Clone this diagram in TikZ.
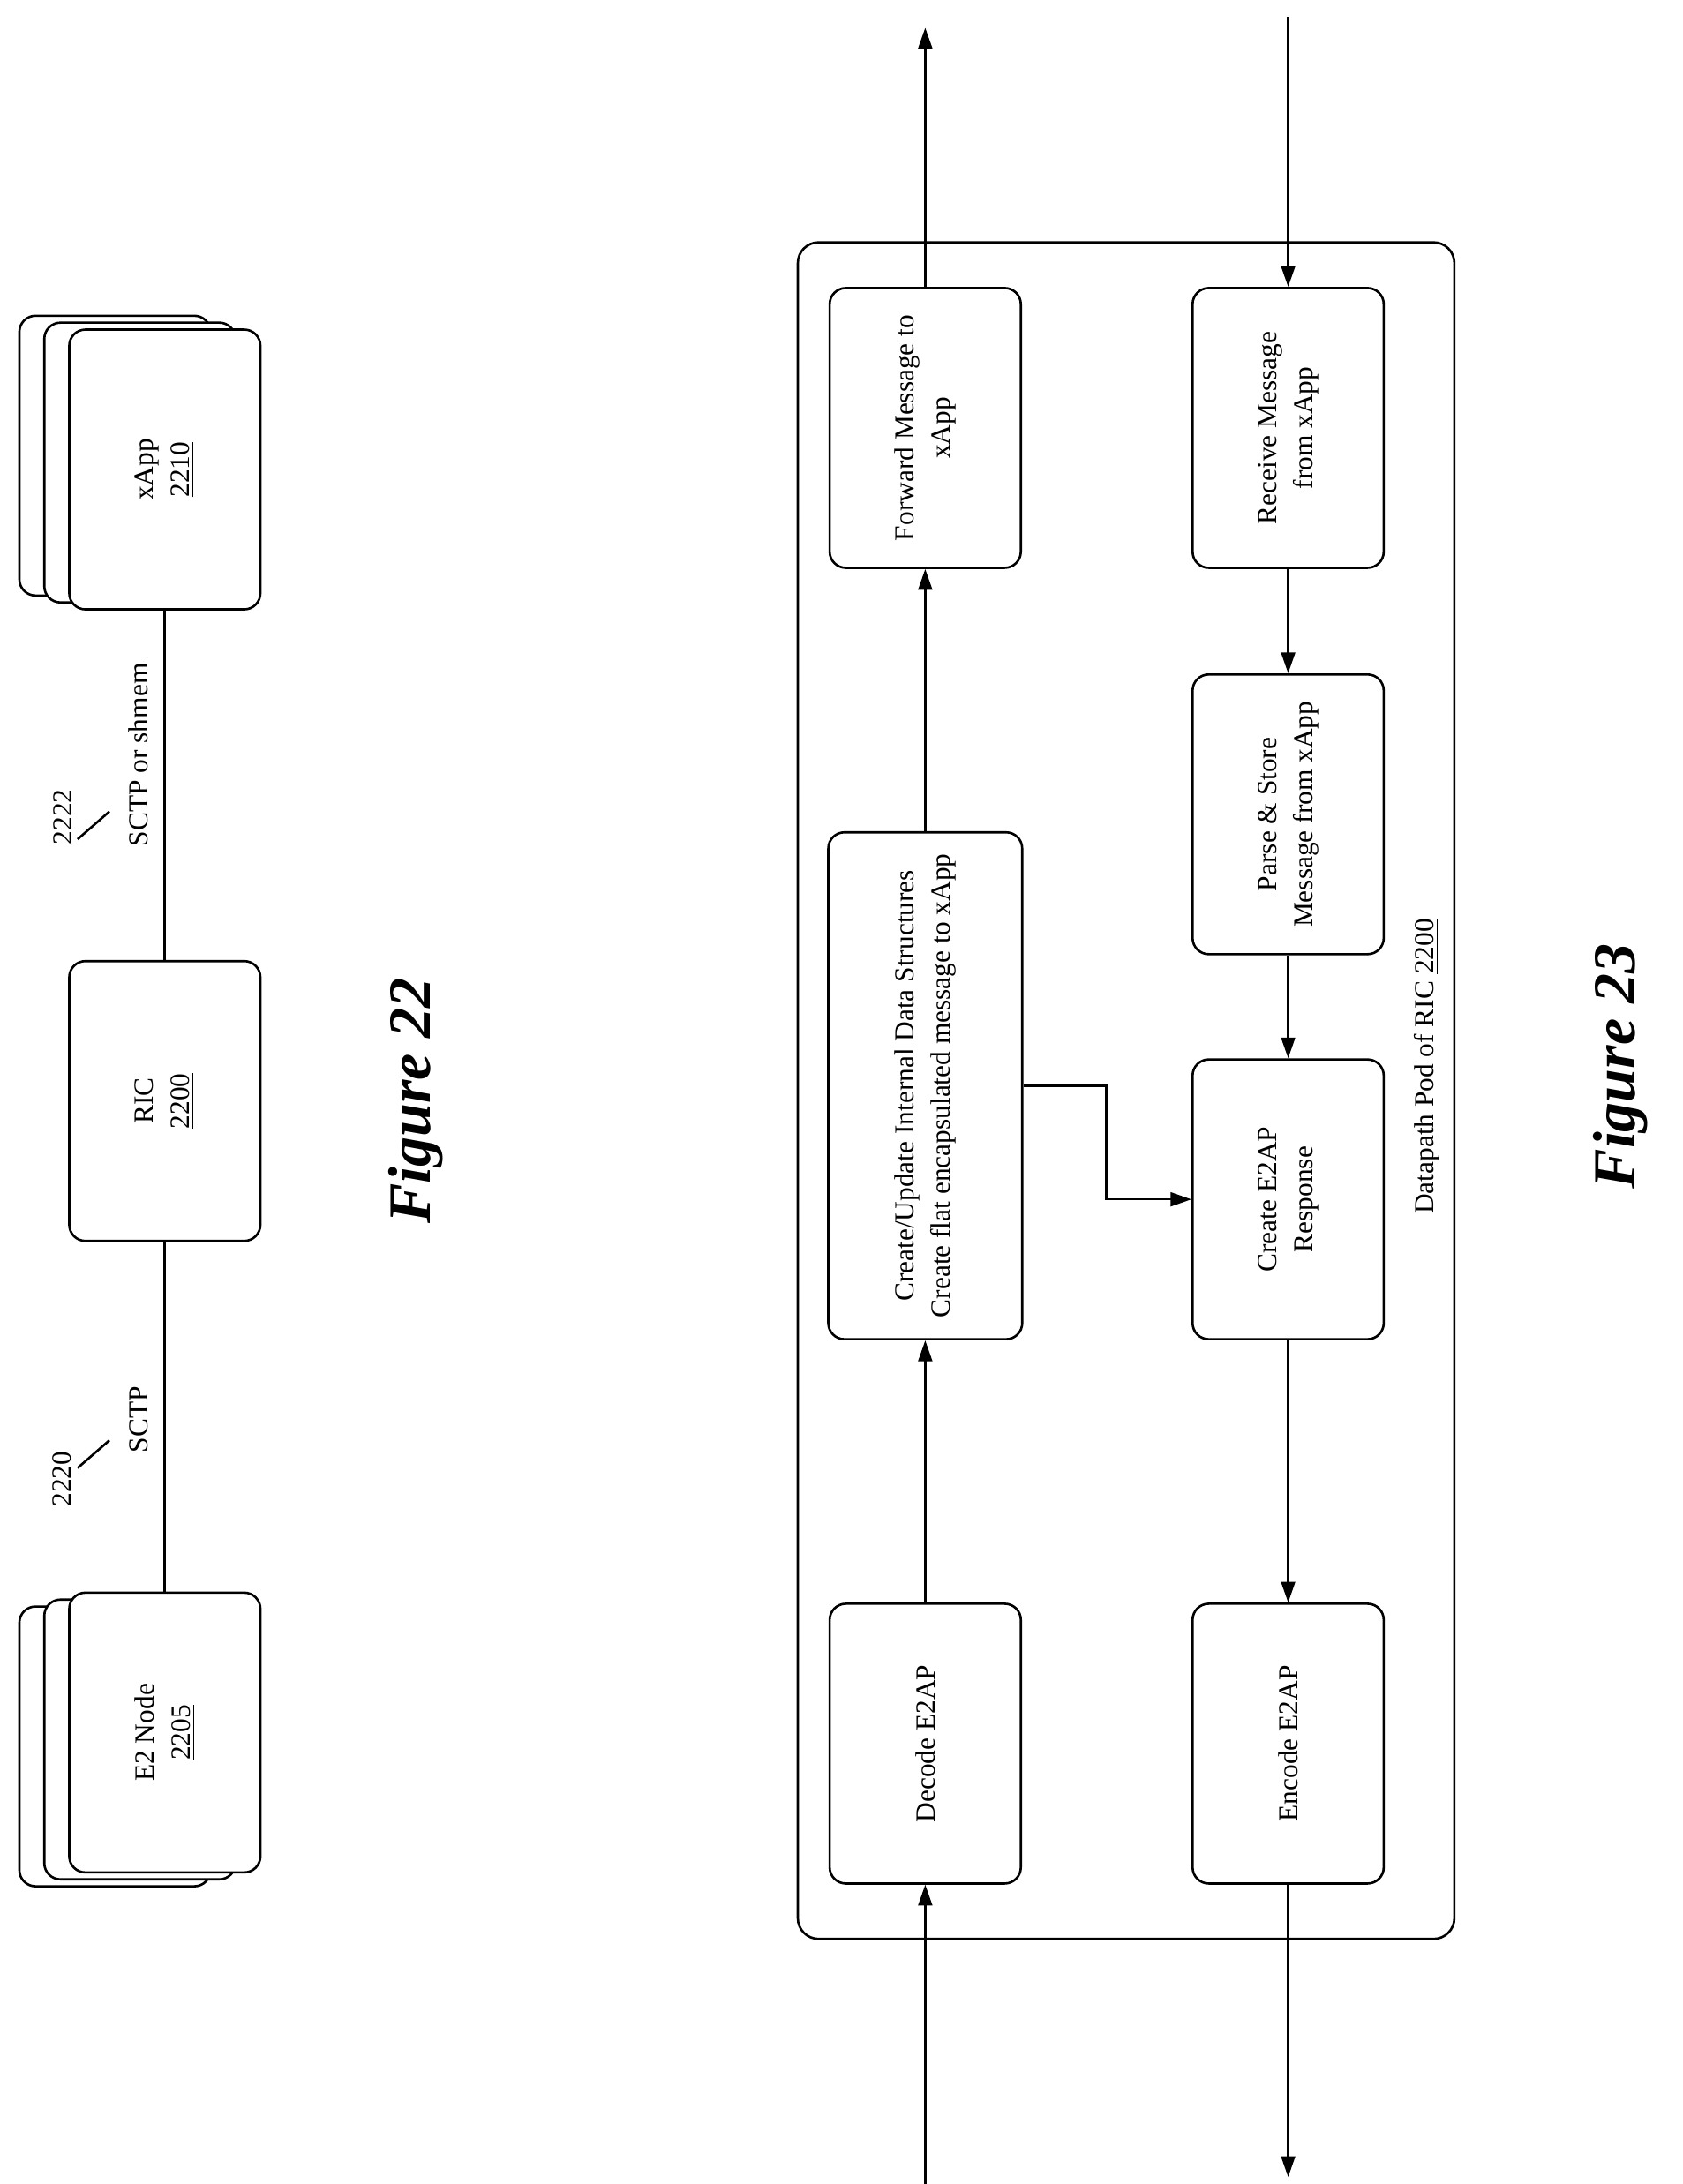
\documentclass[tikz,border=0pt]{standalone}
\usepackage{fontspec}
\setmainfont{Liberation Serif}
\usetikzlibrary{arrows.meta}
\begin{document}
\begin{tikzpicture}[x=0.6pt,y=-0.6pt,
  box/.style={draw,line width=1pt,rounded corners=7pt,fill=white,rotate=90,align=center,font=\fontsize{12}{15.6}\selectfont,inner sep=2pt},
  sbox/.style={box,minimum width=121.2pt,minimum height=82.8pt},
  lbl/.style={rotate=90,font=\fontsize{12}{14}\selectfont,inner sep=1pt},
  fig/.style={rotate=90,font=\fontsize{26}{30}\selectfont\bfseries\itshape},
  ln/.style={line width=1pt},
  arr/.style={line width=1pt,-{Triangle[length=9pt,width=6pt]}}]
\useasboundingbox (0,0) rectangle (1215,1577);
% Figure 22
\node[sbox] (xb2) at (83,329) {};
\node[sbox] (xb1) at (101,334) {};
\node[sbox] (xapp) at (119,339) {xApp\\\underline{2210}};
\node[sbox] (ric) at (119,795) {RIC\\\underline{2200}};
\node[sbox] (eb2) at (83,1261) {};
\node[sbox] (eb1) at (101,1256) {};
\node[sbox] (e2) at (119,1251) {E2 Node\\\underline{2205}};
\draw[ln] (xapp) -- (ric);
\draw[ln] (ric) -- (e2);
\node[lbl] (l1) at (100,545) {SCTP or shmem};
\node[lbl] (n1) at (45,590) {2222};
\coordinate (a1) at (56,606);
\coordinate (b1) at (79,586);
\draw[ln] (a1) -- (b1);
\node[lbl] (l2) at (100,1025) {SCTP};
\node[lbl] (n2) at (45,1068) {2220};
\coordinate (a2) at (56,1060);
\coordinate (b2) at (79,1040);
\draw[ln] (a2) -- (b2);
\node[fig] (f22) at (300,795) {Figure 22};
% Figure 23
\node[draw,line width=1pt,rounded corners=9pt,minimum width=474*0.6pt,minimum height=1225*0.6pt,inner sep=0pt] (pod) at (813,787.5) {};
\node[sbox] (fwd) at (668,309) {Forward Message to\\xApp};
\node[box,minimum width=219.6pt,minimum height=84pt] (cu) at (668,784) {Create/Update Internal Data Structures\\Create flat encapsulated message to xApp};
\node[sbox] (dec) at (668,1259) {Decode E2AP};
\node[sbox] (rcv) at (930,309) {Receive Message\\from xApp};
\node[sbox] (prs) at (930,588) {Parse \& Store\\Message from xApp};
\node[sbox] (cre) at (930,866) {Create E2AP\\Response};
\node[sbox] (enc) at (930,1259) {Encode E2AP};
\node[lbl] (pl) at (1030,770) {Datapath Pod of RIC \underline{2200}};
\node[fig] (f23) at (1170,770) {Figure 23};
\coordinate (inL) at (668,1577);
\coordinate (outL) at (668,20);
\coordinate (inR) at (930,12);
\coordinate (outR) at (930,1572);
\draw[arr] (inL) -- (dec);
\draw[arr] (dec) -- (cu);
\draw[arr] (cu) -- (fwd);
\draw[arr] (fwd) -- (outL);
\draw[arr] (inR) -- (rcv);
\draw[arr] (rcv) -- (prs);
\draw[arr] (prs) -- (cre);
\draw[arr] (cre) -- (enc);
\draw[arr] (enc) -- (outR);
\draw[arr] (cu.south) -- ++(60,0) |- (cre.north);
\end{tikzpicture}
\end{document}
